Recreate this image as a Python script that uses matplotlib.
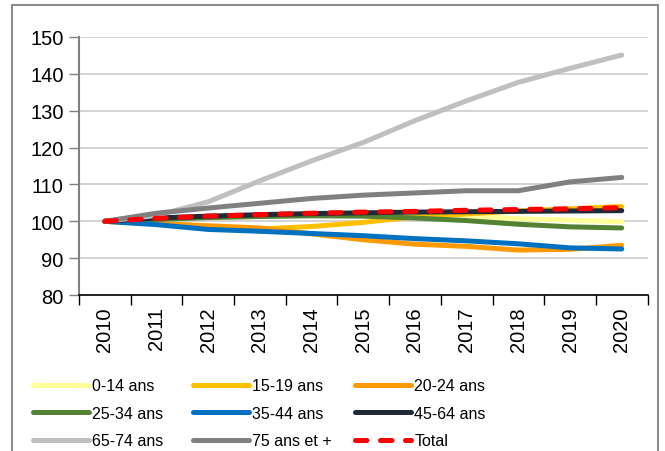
import matplotlib.pyplot as plt
from matplotlib.patches import Rectangle

plt.rcParams['font.family'] = ['Liberation Sans', 'DejaVu Sans']

annees = ["2010", "2011", "2012", "2013", "2014", "2015", "2016", "2017", "2018", "2019", "2020"]

# indices base 100 en 2010
age_0_14 = [100, 100.8, 101.3, 101.6, 101.8, 101.8, 101.7, 101.3, 100.7, 100.3, 99.9]
age_15_19 = [100, 99.3, 98.6, 97.9, 98.6, 99.7, 101.2, 102.0, 102.8, 103.4, 104.0]
age_20_24 = [100, 99.4, 98.8, 98.2, 96.6, 95.0, 93.8, 93.2, 92.2, 92.4, 93.5]
age_25_34 = [100, 100.5, 101.0, 101.3, 101.5, 101.4, 100.9, 100.2, 99.2, 98.5, 98.2]
age_35_44 = [100, 99.1, 97.8, 97.3, 96.7, 96.1, 95.3, 94.7, 93.9, 92.8, 92.5]
age_45_64 = [100, 100.9, 101.4, 101.8, 102.1, 102.3, 102.5, 102.6, 102.7, 102.8, 102.9]
age_65_74 = [100, 101.6, 105.3, 111.0, 116.4, 121.4, 127.3, 132.7, 137.7, 141.5, 145.1]
age_75_plus = [100, 102.2, 103.6, 104.9, 106.2, 107.1, 107.7, 108.3, 108.3, 110.7, 111.9]
total = [100, 100.8, 101.4, 101.8, 102.2, 102.5, 102.7, 103.0, 103.2, 103.4, 103.7]

series = [
    ("0-14 ans", age_0_14, "#ffff99"),
    ("15-19 ans", age_15_19, "#ffc000"),
    ("20-24 ans", age_20_24, "#ff9900"),
    ("25-34 ans", age_25_34, "#548235"),
    ("35-44 ans", age_35_44, "#0070c0"),
    ("45-64 ans", age_45_64, "#1f2937"),
    ("65-74 ans", age_65_74, "#bfbfbf"),
    ("75 ans et +", age_75_plus, "#808080"),
]

fig = plt.figure(figsize=(6.65, 4.52), dpi=100)
ax = fig.add_axes([0.1188, 0.345, 0.855, 0.571])

x = list(range(len(annees)))
handles = []
for label, vals, col in series:
    h, = ax.plot(x, vals, color=col, lw=3.6, solid_capstyle="round", label=label)
    handles.append(h)
h, = ax.plot(x, total, color="#ff0000", lw=3.6, dashes=(2.3, 2.7),
             dash_capstyle="round", label="Total")
handles.append(h)

ax.set_xlim(-0.5, len(annees) - 0.5)
ax.set_ylim(80, 150)
ax.set_yticks(range(80, 151, 10))
ax.set_xticks(x)
ax.set_xticklabels(annees, rotation=90)
ax.set_xticks([i - 0.5 for i in range(len(annees) + 1)], minor=True)
ax.tick_params(axis="x", which="major", length=0, pad=8, labelsize=14.5)
ax.tick_params(axis="x", which="minor", length=7, width=1, color="black")
ax.tick_params(axis="y", length=7, width=1, color="#808080", pad=4, labelsize=14.5)

ax.grid(axis="y", color="#d0d0d0", lw=1.3)
ax.set_axisbelow(True)
for s in ["top", "right"]:
    ax.spines[s].set_visible(False)
ax.spines["left"].set_color("#808080")
ax.spines["left"].set_linewidth(1.5)
ax.spines["bottom"].set_color("black")
ax.spines["bottom"].set_linewidth(1.2)

# legende en trois colonnes, rangee par rangee
col_x = [0.050, 0.290, 0.534]
for c in range(3):
    leg = fig.legend(handles=handles[c::3], loc="upper left",
                     bbox_to_anchor=(col_x[c], 0.161), frameon=False,
                     fontsize=11.5, handlelength=3.5, handletextpad=0.2,
                     labelspacing=0.78, borderaxespad=0, borderpad=0)

# cadre du graphique
fig.patches.append(Rectangle((12 / 665, -0.05), 646 / 665, 1 - 6 / 452 + 0.05,
                             transform=fig.transFigure, fill=False,
                             edgecolor="#8c8c8c", lw=1.5))

fig.savefig("out.png", dpi=100)
